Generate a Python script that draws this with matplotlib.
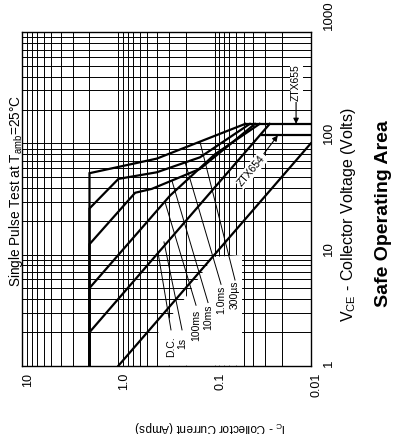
import numpy as np
import matplotlib
matplotlib.use('Agg')
import matplotlib.pyplot as plt
from matplotlib.patches import Polygon
from matplotlib.ticker import LogLocator, NullFormatter
from matplotlib.transforms import ScaledTranslation

plt.rcParams['font.family'] = ['Liberation Sans', 'DejaVu Sans']
plt.rcParams['mathtext.fontset'] = 'custom'
plt.rcParams['mathtext.rm'] = 'Liberation Sans'
plt.rcParams['mathtext.it'] = 'Liberation Sans:italic'
plt.rcParams['mathtext.bf'] = 'Liberation Sans:bold'

# SOA curves: IC (A) vs VCE (V)
ic_300us = [2, 2, 0.40, 0.048]
vce_300us = [1, 54, 73, 150]
ic_1ms = [2, 2, 1.0, 0.40, 0.142, 0.043]
vce_1ms = [1, 26, 48, 55, 75, 150]
ic_10ms = [2, 2, 0.67, 0.45, 0.142, 0.038]
vce_10ms = [1, 12.4, 36, 39, 59, 150]
ic_100ms = [2, 2, 0.29, 0.099, 0.034]
vce_100ms = [1, 5.0, 34, 80, 150]
ic_1s = [2, 2, 0.0267]
vce_1s = [1, 2.0, 150]
ic_dc = [1, 0.01]
vce_dc = [1, 100]

# VCEmax limits
ic_655 = [0.048, 0.01]
vce_655 = [150, 150]
ic_654 = [0.032, 0.01]
vce_654 = [120, 120]

# curve labels and their leader lines
names = ['D.C.', '1s', '100ms', '10ms', '1.0ms', '300µs']
label_ic = [0.284, 0.218, 0.156, 0.117, 0.0857, 0.0613]
label_v = [1.22, 1.45, 1.72, 2.12, 2.95, 3.3]
lead_ic_top = [0.388, 0.336, 0.328, 0.277, 0.203, 0.1417]
lead_v_top = [10.5, 13.0, 29.7, 45.9, 68.1, 102.9]
lead_ic_bot = [0.284, 0.218, 0.156, 0.117, 0.0857, 0.0613]
lead_v_bot = [2.1, 2.1, 3.5, 3.7, 5.4, 5.9]

xticks = [10, 1, 0.1, 0.01]
xticklabels = ['10', '1.0', '0.1', '0.01']
yticks = [1, 10, 100, 1000]
yticklabels = ['1', '10', '100', '1000']

fig = plt.figure(figsize=(4.04, 4.35), dpi=100)
ax = fig.add_axes([0.0552, 0.1570, 0.7139, 0.7664])
ax.set_xscale('log')
ax.set_yscale('log')
ax.set_xlim(10, 0.01)
ax.set_ylim(1, 1000)

ax.xaxis.set_minor_locator(LogLocator(base=10, subs=np.arange(2, 10), numticks=20))
ax.yaxis.set_minor_locator(LogLocator(base=10, subs=np.arange(2, 10), numticks=20))
ax.xaxis.set_minor_formatter(NullFormatter())
ax.yaxis.set_minor_formatter(NullFormatter())
ax.grid(which='both', color='black', lw=0.7)
ax.tick_params(which='both', length=0)

ax.set_xticks(xticks)
ax.set_xticklabels(xticklabels, rotation=90, ha='left', va='top', fontsize=9)
ax.tick_params(axis='x', pad=4.5)
ax.yaxis.tick_right()
ax.set_yticks(yticks)
ax.set_yticklabels(yticklabels, rotation=90, ha='left', va='bottom', fontsize=9.5)
ax.tick_params(axis='y', pad=8.5)
for s in ax.spines.values():
    s.set_linewidth(1.0)

# the top label sits a little higher in the original
top_lab = ax.get_yticklabels()[-1]
top_lab.set_transform(top_lab.get_transform() + ScaledTranslation(0, 0.03, fig.dpi_scale_trans))

# blank area behind the curve labels
blank = Polygon([(0.4705, 0), (0.4705, 0.098), (0.5676, 0.206), (0.6612, 0.326),
                 (0.762, 0.332), (0.762, 0)], closed=True, transform=ax.transAxes,
                fc='white', ec='none', zorder=1.8)
ax.add_patch(blank)

for ic, v in [(ic_300us, vce_300us), (ic_1ms, vce_1ms), (ic_10ms, vce_10ms),
              (ic_100ms, vce_100ms), (ic_1s, vce_1s), (ic_dc, vce_dc),
              (ic_655, vce_655), (ic_654, vce_654)]:
    ax.plot(ic, v, color='black', lw=1.6, zorder=3, solid_joinstyle='miter')

for i in range(len(names)):
    ax.plot([lead_ic_top[i], lead_ic_bot[i]], [lead_v_top[i], lead_v_bot[i]],
            color='black', lw=0.7, zorder=3)
    ax.text(label_ic[i], label_v[i], names[i], rotation=90, ha='center', va='bottom',
            fontsize=7.5, zorder=4)

ax.annotate('ZTX655', xy=(0.0142, 150), xytext=(0.0142, 357), rotation=90,
            ha='center', va='center', fontsize=7.5, zorder=4,
            bbox=dict(boxstyle='square,pad=0.15', fc='white', ec='none'),
            arrowprops=dict(arrowstyle='-|>', color='black', lw=0.8,
                            shrinkA=0, shrinkB=0, mutation_scale=8))
ax.annotate('ZTX654', xy=(0.022, 118), xytext=(0.0413, 57.7), rotation=50,
            ha='center', va='center', fontsize=7.5, zorder=4,
            bbox=dict(boxstyle='square,pad=0.15', fc='white', ec='none'),
            arrowprops=dict(arrowstyle='-|>', color='black', lw=0.8,
                            shrinkA=0, shrinkB=0, mutation_scale=8))

fig.text(16/404, 1 - 191/435, r'Single Pulse Test at T$_{\mathrm{amb}}$=25°C',
         rotation=90, ha='center', va='center', fontsize=9.8)
fig.text(349/404, 1 - 215/435, r'V$_{\mathrm{CE}}$ - Collector Voltage (Volts)',
         rotation=90, ha='center', va='center', fontsize=11.5)
fig.text(383/404, 1 - 214/435, 'Safe Operating Area', rotation=90,
         ha='center', va='center', fontsize=14, fontweight='bold')
fig.text(210/404, 1 - 427/435, r'I$_{\mathrm{C}}$ - Collector Current (Amps)',
         rotation=180, ha='center', va='center', fontsize=8.5)

plt.savefig('out.png', dpi=100)
